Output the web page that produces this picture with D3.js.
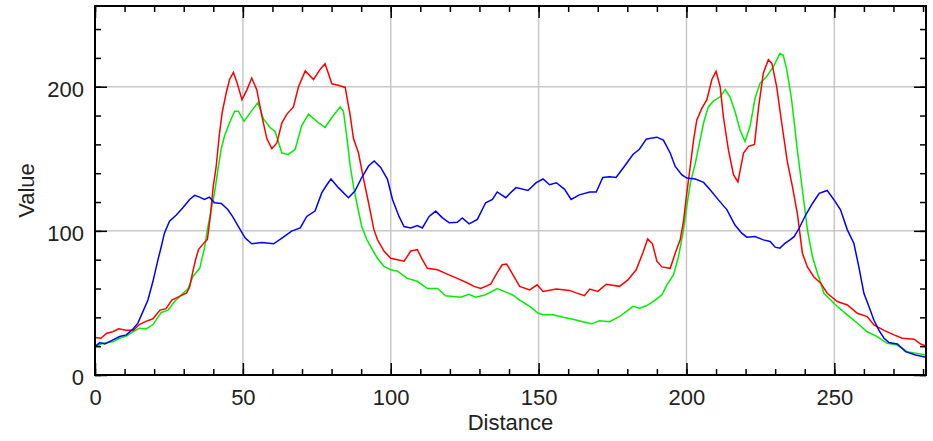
<!DOCTYPE html>
<html>
<head>
<meta charset="utf-8">
<script src="https://cdn.jsdelivr.net/npm/d3@7"></script>
<style>
    body { margin: 0; background: #fff; }
    text { font-family: 'Liberation Sans', Arial, sans-serif; fill: #222; }
    .grid line { stroke: #c8c8c8; stroke-width: 1.5; }
    .axis line { stroke: #000; stroke-width: 1.5; }
    .axis text { font-size: 22px; }
    .series { fill: none; stroke-width: 1.5; }
</style>
</head>
<body>
<script>
// distance, value pairs
const redData = [[0,26],[2,25.5],[4,29],[6,30],[8,32],[10.5,31],[13,31],[15,35],[17,37],[19.6,39],[22,45],[24,46],[26,52],[28.6,54.5],[31,57],[32,61],[33,71],[34,80],[35,87],[37,92],[38,94],[39,110],[40,131],[41,145],[42,166],[43,182],[44.4,196],[45.5,205],[46.8,210],[48,203],[49.7,191],[51.4,198],[53,206],[54.7,198],[56.4,180],[58.1,164],[59.8,157],[61.5,161],[63.2,175],[64.9,181],[67.1,186],[68.8,200],[71.1,211],[73.9,205],[76.1,212],[77.8,216],[80.1,202],[82.3,201],[84.6,199.5],[86.3,180],[87.4,164],[89.1,154],[90.8,136],[92.5,119.5],[94.3,101],[95.5,94],[97.7,86],[100,81],[102.3,80],[104.5,79],[106.8,86],[109,87],[110.7,80],[112.4,74],[115.8,73],[119.1,70],[122.5,67],[125.8,64],[128.2,61.5],[130.4,60],[133.8,63],[136,71],[137.7,76.5],[139.2,77],[141.5,69],[143.6,61.5],[147,59],[149.5,62.6],[151.5,58],[156,59.6],[160.5,58.7],[162.7,57],[165.5,55],[167.3,59.6],[170,58],[172.9,63],[177.4,61.5],[180.2,66],[183,73],[185.3,85],[186.9,94.4],[188.5,91],[190,79],[191.7,75],[194.5,74],[196.2,84.5],[197.9,94],[199,106.5],[200.1,126],[201.3,145],[202.4,163],[203.5,177],[205.2,185],[206.9,191],[208.6,205],[210,210.6],[211.4,200],[212.5,179],[214.2,156],[215.9,139],[217.4,134],[219.3,154],[221,158.6],[223,160],[224.4,186],[226,209.5],[227.7,218.75],[228.9,216],[230.5,200],[232.2,175],[234.1,148],[235.8,131],[237.5,112],[239.2,84.5],[240.9,75],[243.1,68],[245.4,63.7],[247.6,56.7],[251,51],[254.4,48.6],[257.8,42.8],[261.1,40.5],[263.4,34.7],[266.8,31],[270.2,27.8],[273,25.5],[277,24.8],[279.2,21.5],[281,20]];

const greenData = [[0,19.7],[2.7,22],[6.1,23],[8.3,25.5],[10.6,27],[12.8,30],[15.1,32.5],[17.3,32],[19.6,35],[22.4,43.4],[24.7,45],[26.9,51],[29.2,55.7],[31.4,59.6],[33.1,68.4],[35.4,74],[37,88],[38.2,103],[39.3,115],[40.4,126],[41.6,143],[42.7,157],[43.8,166],[45.5,175],[47.2,183],[48.5,183],[50.4,176],[52.5,182],[55.1,189],[57,177.5],[59.2,171.7],[60.9,169],[63.2,154],[65.4,153],[67.7,156.6],[69.9,173],[72.2,181],[75,176],[77.8,171.7],[80.1,178.6],[82.9,186],[84,183],[85.1,166],[86.3,145],[87.4,131],[88.5,119.5],[90.2,103],[91.9,94],[93.5,88],[95.5,81],[97.7,75.4],[100,73],[102.3,72],[105.6,67],[109,65],[112.4,60],[115.8,60],[118.6,55],[123.6,54],[126.5,56],[128.7,54],[132.1,55.7],[136,60],[138.3,58],[141.1,55.7],[143.6,52],[147,47.6],[149.8,43],[151.5,41.8],[154.9,41.8],[158.3,40],[161.6,38.7],[165,37],[167.8,35.5],[170.6,37.6],[174,37],[177.4,40.6],[179.6,44],[181.9,47.6],[184.1,46.4],[186.4,48],[188.1,50],[189.4,52],[191.7,55.6],[193.4,62.5],[195.6,69.4],[197.3,82],[199,100.7],[200.1,117],[201.3,133],[203,147],[204.6,163],[205.8,175],[207.4,186],[209.1,190],[211.4,193],[213.1,198],[214.7,193],[216.4,183],[218.1,170],[219.8,162],[221.5,172.5],[223.2,192],[224.9,202.5],[227.1,207],[229.4,214],[231.6,223],[232.7,222],[233.9,212],[235.5,192],[237.5,156],[239.2,128.5],[240.9,100.7],[242.6,82],[244.3,70.6],[246.5,56.7],[248.8,52],[251,47.5],[254.4,41.7],[257.8,35.9],[261.1,30],[264.5,26.6],[267.9,22],[271.3,20.8],[274.6,16.2],[278,15],[281,13.9]];

const blueData = [[0,19.7],[1.6,22.5],[3.3,21.6],[6.1,24.4],[8.3,26.7],[10.6,27.8],[12.8,31.8],[14.5,36],[16.2,44],[17.9,52],[19.6,65],[21.3,80],[22.4,89],[23.5,98.6],[25.2,106.7],[27.5,111],[29.7,116],[32,121.8],[33.7,124.6],[35.4,123.4],[37,121.8],[38.7,123.4],[40.4,119.5],[42.7,119],[44.9,114.8],[46.5,110],[48.5,103],[50.8,95],[53,91],[56.4,92],[60.4,91],[63.2,95],[66.5,99.8],[69.4,102],[71.6,110],[74.4,113.7],[76.7,126.5],[78.4,132],[79.8,136],[82.3,130],[85.7,123],[87.9,127.6],[90.2,137],[92.5,145],[94.4,148.5],[96.6,144],[98.9,135.7],[100.6,121.8],[102.8,110],[104.5,103],[106.8,102],[109,103.7],[110.7,102],[113,110],[115.2,113.7],[117.5,109],[119.8,105.6],[122.5,106],[124.2,109],[126.5,104.9],[129.3,108],[132.1,119.5],[134.4,121.8],[136,127],[138.9,123],[141.1,127.6],[142.4,130],[146.4,128],[149.2,133.4],[151.5,136],[153.7,132],[156,133.4],[158.8,128.8],[161,121.8],[163.8,125],[167.3,127],[169.5,127],[171.7,137],[174,137.6],[176.2,137],[179.1,145],[181.9,153],[184.1,156.6],[186.4,163.6],[188.5,164.5],[190,165],[192.2,163],[194.5,154],[196.2,144.7],[198.4,139],[200.1,136.6],[203,136],[205.8,133.6],[208,128.5],[210.8,121.5],[213.7,114.6],[216.4,104],[218.7,98.4],[220.4,95.6],[223.2,96],[226,93.75],[228.3,92.6],[230,88.7],[231.6,88],[233.3,91.4],[235,93.75],[236.4,96],[238.1,101.8],[240.3,111],[242.6,119],[244.9,126],[247.6,128],[249.9,121.5],[252.1,114.6],[254.4,100.7],[256.6,91.4],[258.3,75],[260,56.7],[261.7,47.5],[263.4,38],[265.1,31],[266.8,25.5],[268.5,22.5],[271.3,21.5],[274.1,16.2],[277.5,13.9],[281,12.3]];

const xMajor = [0, 50, 100, 150, 200, 250];
const xMinor = d3.range(0, 281, 10);
const yMajor = [0, 100, 200];
const yMinor = d3.range(0, 256, 20);

function draw() {
    const W = 933, H = 441;
    const margin = {left: 95, top: 6, right: 7, bottom: 66};
    const width = W - margin.left - margin.right,
          height = H - margin.top - margin.bottom;

    const svg = d3.select('body')
        .append('svg')
        .attr('width', W)
        .attr('height', H)
        .append('g')
        .attr('transform', 'translate(' + margin.left + ',' + margin.top + ')');

    const x = d3.scaleLinear().domain([0, 281]).range([0, width]);
    const y = d3.scaleLinear().domain([0, 256]).range([height, 0]);

    // grid
    const grid = svg.append('g').attr('class', 'grid');
    grid.selectAll('.gx')
        .data(xMajor.filter(d => d > 0))
        .enter().append('line')
        .attr('x1', d => x(d)).attr('x2', d => x(d))
        .attr('y1', 0).attr('y2', height);
    grid.selectAll('.gy')
        .data(yMajor.filter(d => d > 0))
        .enter().append('line')
        .attr('x1', 0).attr('x2', width)
        .attr('y1', d => y(d)).attr('y2', d => y(d));

    svg.append('clipPath').attr('id', 'clip')
        .append('rect').attr('width', width).attr('height', height);

    const line = d3.line()
        .x(d => x(d[0]))
        .y(d => y(d[1]));

    [[greenData, '#00ee00'], [redData, '#ff0000'], [blueData, '#0000ff']].forEach(function(s) {
        svg.append('path')
            .datum(s[0])
            .attr('class', 'series')
            .attr('clip-path', 'url(#clip)')
            .attr('stroke', s[1])
            .attr('d', line);
    });

    // ticks, all pointing inward
    function addAxis(axis, transform) {
        const g = svg.append('g')
            .attr('class', 'axis')
            .attr('transform', transform)
            .call(axis);
        g.select('.domain').remove();
        return g;
    }

    addAxis(d3.axisBottom(x).tickValues(xMinor).tickSize(-6).tickFormat(''), 'translate(0,' + height + ')');
    addAxis(d3.axisTop(x).tickValues(xMinor).tickSize(-6).tickFormat(''), 'translate(0,0)');
    addAxis(d3.axisLeft(y).tickValues(yMinor).tickSize(-6).tickFormat(''), 'translate(0,0)');
    addAxis(d3.axisRight(y).tickValues(yMinor).tickSize(-6).tickFormat(''), 'translate(' + width + ',0)');

    addAxis(d3.axisBottom(x).tickValues(xMajor).tickSize(-12).tickPadding(14).tickFormat(d3.format('d')),
        'translate(0,' + height + ')');
    addAxis(d3.axisTop(x).tickValues(xMajor).tickSize(-12).tickFormat(''), 'translate(0,0)');
    addAxis(d3.axisLeft(y).tickValues(yMajor).tickSize(-12).tickPadding(11).tickFormat(d3.format('d')),
        'translate(0,0)')
        .selectAll('text').attr('dy', '0.43em');
    addAxis(d3.axisRight(y).tickValues(yMajor).tickSize(-12).tickFormat(''), 'translate(' + width + ',0)');

    svg.append('rect')
        .attr('width', width)
        .attr('height', height)
        .attr('fill', 'none')
        .attr('stroke', '#000')
        .attr('stroke-width', 2);

    svg.append('text')
        .attr('x', width / 2)
        .attr('y', height + 55)
        .attr('text-anchor', 'middle')
        .style('font-size', '22px')
        .text('Distance');

    svg.append('text')
        .attr('transform', 'translate(' + (-61) + ',' + (height / 2) + ') rotate(-90)')
        .attr('text-anchor', 'middle')
        .style('font-size', '22px')
        .text('Value');
}

draw();
</script>
</body>
</html>
